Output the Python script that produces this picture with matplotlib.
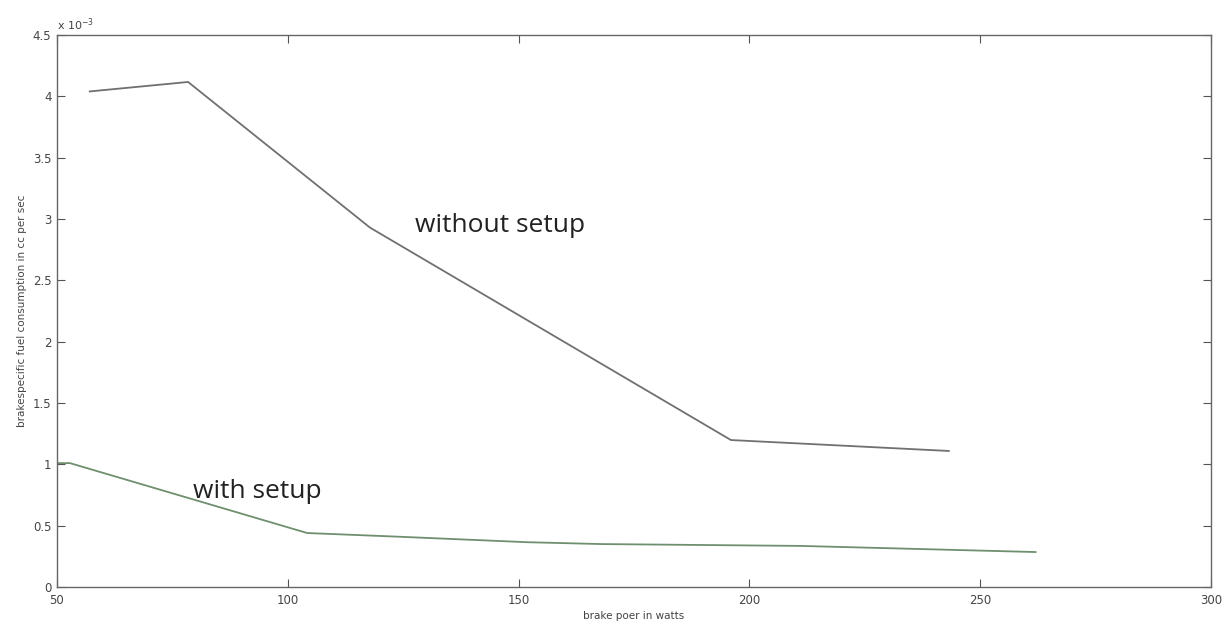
import matplotlib
matplotlib.use("Agg")
import matplotlib.pyplot as plt

# Data (y in units of 1e-3 cc per sec)
x_without = [57.1, 78.4, 117.8, 196.0, 243.2]
y_without = [4.04, 4.117, 2.93, 1.198, 1.109]

x_with = [50.0, 52.8, 104.2, 124.0, 152.0, 168.0, 211.0, 262.0]
y_with = [1.01, 1.01, 0.44, 0.41, 0.365, 0.35, 0.335, 0.285]

xticks = [50, 100, 150, 200, 250, 300]
yticks = [0, 0.5, 1, 1.5, 2, 2.5, 3, 3.5, 4, 4.5]
ytick_labels = ["0", "0.5", "1", "1.5", "2", "2.5", "3", "3.5", "4", "4.5"]

fig = plt.figure(figsize=(12.26, 6.28), dpi=100)
ax = fig.add_axes([57/1226, 1-587/628, (1211-57)/1226, (587-35)/628])

ax.plot(x_without, y_without, color="#707070", lw=1.3)
ax.plot(x_with, y_with, color="#6f8f6f", lw=1.3)

ax.set_xlim(50, 300)
ax.set_ylim(0, 4.5)
ax.set_xticks(xticks)
ax.set_yticks(yticks)
ax.set_yticklabels(ytick_labels)
ax.tick_params(direction="in", top=True, right=True, length=6, width=0.8,
               colors="#555555", labelsize=8.5, labelcolor="#444444", pad=3)
ax.tick_params(axis="x", pad=5)
ax.tick_params(axis="y", pad=4)
for s in ax.spines.values():
    s.set_color("#666666")
    s.set_linewidth(1.0)

ax.set_xlabel("brake poer in watts", fontsize=7.5, color="#444444", labelpad=3)
ax.set_ylabel("brakespecific fuel consumption in cc per sec", fontsize=7.5,
              color="#444444", labelpad=4)

ax.text(0.0, 1.003, "x 10$^{-3}$", transform=ax.transAxes, fontsize=8,
        color="#444444", ha="left", va="bottom")

ax.text(127.6, 2.95, "without setup", fontsize=19, family="Open Sans",
        color="#222222", ha="left", va="center")
ax.text(79.5, 0.775, "with setup", fontsize=19, family="Open Sans",
        color="#222222", ha="left", va="center")

fig.savefig("out.png", dpi=100, facecolor="white")
